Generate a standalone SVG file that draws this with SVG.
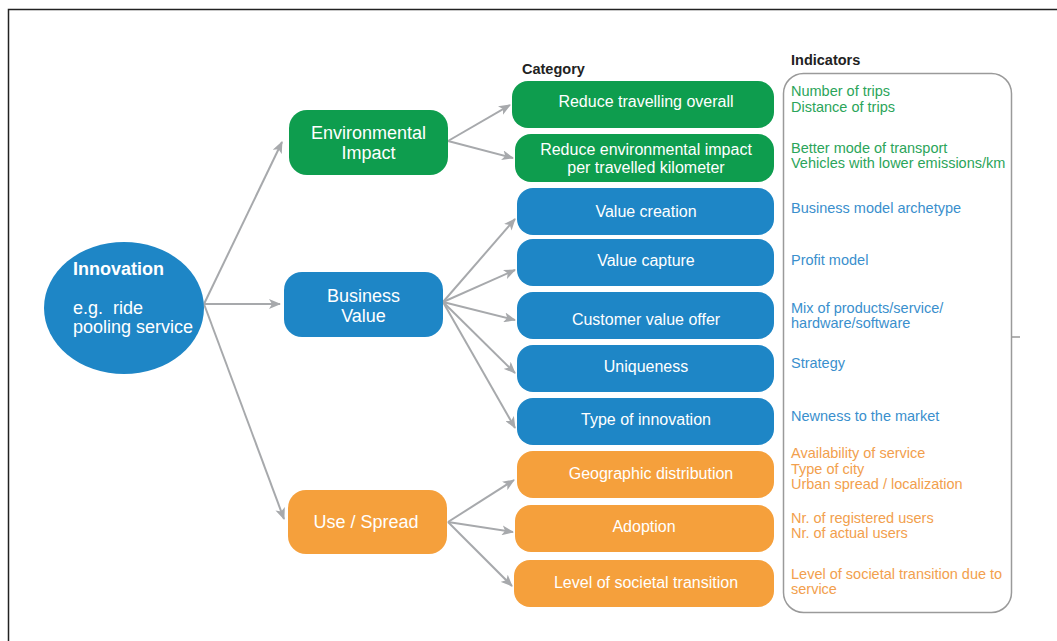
<svg xmlns="http://www.w3.org/2000/svg" width="1057" height="641" viewBox="0 0 1057 641">
<defs>
<marker id="ah" viewBox="0 0 12 10" refX="11" refY="5" markerWidth="6" markerHeight="5" orient="auto" markerUnits="strokeWidth">
<path d="M0,0 L12,5 L0,10 L3,5 Z" fill="#a7a9ac"/>
</marker>
<style>
text{font-family:"Liberation Sans",Arial,sans-serif}
.g{fill:#0e9d4e}
.b{fill:#1e86c6}
.o{fill:#f5a03c}
.wt{fill:#fff;font-size:16px;text-anchor:middle}
.mt{fill:#fff;font-size:18px;text-anchor:middle}
.ig{fill:#2ba55a;font-size:14.5px}
.ib{fill:#3a8fcd;font-size:14.5px}
.io{fill:#f2a04d;font-size:14.5px}
.hd{fill:#222;font-size:14.5px;font-weight:bold}
.c{stroke:#a7a9ac;stroke-width:2;fill:none;marker-end:url(#ah)}
</style>
</defs>
<rect x="0" y="0" width="1057" height="641" fill="#fff"/>
<path d="M8.5,641 V9.5 H1057" fill="none" stroke="#222" stroke-width="1.5"/>

<g id="connectors">
<line class="c" x1="204" y1="304" x2="282" y2="142"/>
<line class="c" x1="204" y1="304" x2="280" y2="304"/>
<line class="c" x1="204" y1="304" x2="284" y2="519"/>
<line class="c" x1="448" y1="141" x2="510" y2="105"/>
<line class="c" x1="448" y1="141" x2="513" y2="158"/>
<line class="c" x1="443" y1="302" x2="515" y2="219"/>
<line class="c" x1="443" y1="302" x2="515" y2="270"/>
<line class="c" x1="443" y1="302" x2="515" y2="320"/>
<line class="c" x1="443" y1="302" x2="515" y2="373"/>
<line class="c" x1="443" y1="302" x2="515" y2="428"/>
<line class="c" x1="448" y1="522" x2="514" y2="480"/>
<line class="c" x1="448" y1="522" x2="513" y2="532"/>
<line class="c" x1="448" y1="522" x2="512" y2="586"/>
<line x1="1011" y1="337" x2="1020" y2="337" stroke="#999" stroke-width="1.5"/>
</g>

<g id="innovation">
<ellipse cx="124" cy="308" rx="80" ry="66" class="b"/>
<text x="73" y="275" fill="#fff" font-size="18" font-weight="bold">Innovation</text>
<text x="73" y="314" fill="#fff" font-size="18" xml:space="preserve">e.g.  ride</text>
<text x="73" y="333" fill="#fff" font-size="18">pooling service</text>
</g>

<g id="env-impact">
<rect x="289" y="110" width="159" height="65" rx="18" class="g"/>
<text class="mt" x="368.5" y="139">Environmental</text>
<text class="mt" x="368.5" y="159">Impact</text>
</g>
<g id="business-value">
<rect x="284" y="272" width="159" height="65" rx="18" class="b"/>
<text class="mt" x="363.5" y="302">Business</text>
<text class="mt" x="363.5" y="322">Value</text>
</g>
<g id="use-spread">
<rect x="288" y="490" width="159" height="64" rx="18" class="o"/>
<text class="mt" x="366" y="528">Use / Spread</text>
</g>

<text class="hd" x="522" y="74">Category</text>
<text class="hd" x="791" y="65">Indicators</text>

<g id="cat-reduce-travel">
<rect x="512" y="81" width="262" height="47" rx="16" class="g"/>
<text class="wt" x="646" y="107">Reduce travelling overall</text>
</g>
<g id="cat-reduce-env">
<rect x="515" y="134" width="259" height="48" rx="16" class="g"/>
<text class="wt" x="646" y="155">Reduce environmental impact</text>
<text class="wt" x="646" y="173">per travelled kilometer</text>
</g>
<g id="cat-value-creation">
<rect x="517" y="188" width="257" height="47" rx="16" class="b"/>
<text class="wt" x="646" y="217">Value creation</text>
</g>
<g id="cat-value-capture">
<rect x="517" y="239" width="257" height="47" rx="16" class="b"/>
<text class="wt" x="646" y="266">Value capture</text>
</g>
<g id="cat-customer-value">
<rect x="517" y="292" width="257" height="47" rx="16" class="b"/>
<text class="wt" x="646" y="325">Customer value offer</text>
</g>
<g id="cat-uniqueness">
<rect x="517" y="345" width="257" height="47" rx="16" class="b"/>
<text class="wt" x="646" y="372">Uniqueness</text>
</g>
<g id="cat-type-innovation">
<rect x="517" y="398" width="257" height="47" rx="16" class="b"/>
<text class="wt" x="646" y="425">Type of innovation</text>
</g>
<g id="cat-geographic">
<rect x="517" y="451" width="257" height="47" rx="16" class="o"/>
<text class="wt" x="651" y="479">Geographic distribution</text>
</g>
<g id="cat-adoption">
<rect x="515" y="505" width="259" height="47" rx="16" class="o"/>
<text class="wt" x="644" y="532">Adoption</text>
</g>
<g id="cat-societal">
<rect x="514" y="560" width="260" height="47" rx="16" class="o"/>
<text class="wt" x="646" y="588">Level of societal transition</text>
</g>

<g id="indicators">
<rect x="783.5" y="73.5" width="228" height="539" rx="20" fill="none" stroke="#9a9a9a" stroke-width="1.5"/>
<text class="ig" x="791" y="96">Number of trips</text>
<text class="ig" x="791" y="112">Distance of trips</text>
<text class="ig" x="791" y="153">Better mode of transport</text>
<text class="ig" x="791" y="168">Vehicles with lower emissions/km</text>
<text class="ib" x="791" y="213">Business model archetype</text>
<text class="ib" x="791" y="265">Profit model</text>
<text class="ib" x="791" y="313">Mix of products/service/</text>
<text class="ib" x="791" y="328">hardware/software</text>
<text class="ib" x="791" y="368">Strategy</text>
<text class="ib" x="791" y="421">Newness to the market</text>
<text class="io" x="791" y="458">Availability of service</text>
<text class="io" x="791" y="474">Type of city</text>
<text class="io" x="791" y="489">Urban spread / localization</text>
<text class="io" x="791" y="523">Nr. of registered users</text>
<text class="io" x="791" y="538">Nr. of actual users</text>
<text class="io" x="791" y="579">Level of societal transition due to</text>
<text class="io" x="791" y="594">service</text>
</g>
</svg>
